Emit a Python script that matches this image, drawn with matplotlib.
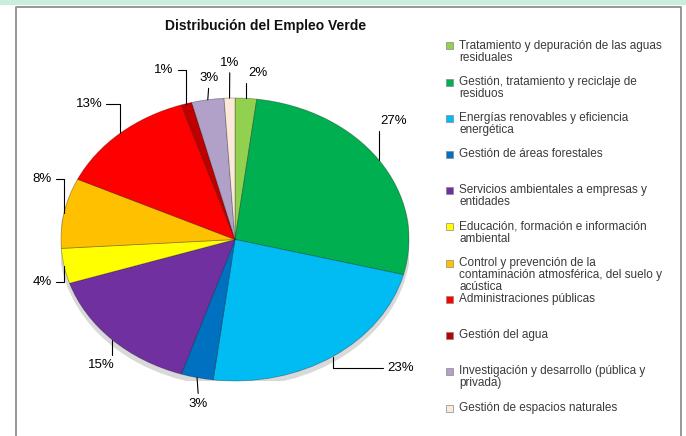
import matplotlib
matplotlib.use("Agg")
import matplotlib.pyplot as plt
from matplotlib.patches import Rectangle, Ellipse
from matplotlib.lines import Line2D
import numpy as np

# data
categorias = [
    "Tratamiento y depuración de las aguas\nresiduales",
    "Gestión, tratamiento y reciclaje de\nresiduos",
    "Energías renovables y eficiencia\nenergética",
    "Gestión de áreas forestales",
    "Servicios ambientales a empresas y\nentidades",
    "Educación, formación e información\nambiental",
    "Control y prevención de la\ncontaminación atmosférica, del suelo y\nacústica",
    "Administraciones públicas",
    "Gestión del agua",
    "Investigación y desarrollo (pública y\nprivada)",
    "Gestión de espacios naturales",
]
porcentajes = [2, 27, 23, 3, 15, 4, 8, 13, 1, 3, 1]

colores = ["#92d050", "#00b050", "#00bcf2", "#0070c0", "#7030a0", "#ffff00",
           "#ffc000", "#ff0000", "#c00000", "#b1a0c7", "#fde9d9"]

# where each % label sits (axes data coords, pie radius = 1)
pos_etiquetas = [(0.13, 1.18), (0.91, 0.84), (0.95, -0.91), (-0.21, -1.16),
                 (-0.77, -0.89), (-1.11, -0.30), (-1.11, 0.43), (-0.84, 0.96),
                 (-0.41, 1.20), (-0.15, 1.14), (-0.03, 1.25)]

fuente = "Liberation Sans"

W, H = 686, 436
fig = plt.figure(figsize=(W / 100, H / 100), dpi=100)
fig.patch.set_facecolor("white")

# top band and frame
fig.add_artist(Rectangle((0, 1 - 5 / H), 1, 5 / H, transform=fig.transFigure,
                         color="#c9efdc", lw=0))
xl, xr, yt = 16 / W, 681 / W, 1 - 7.5 / H
fig.add_artist(Line2D([xl, xl, xr, xr], [0, yt, yt, 0], transform=fig.transFigure,
                      color="#8f8f8f", lw=1.3))

fig.text(266 / W, 1 - 26 / H, "Distribución del Empleo Verde", ha="center",
         va="center", fontsize=10, fontweight="bold", family=fuente,
         color="#111111")

ax = fig.add_axes([61 / W, 1 - 381 / H, 348 / W, 283 / H])
ax.add_patch(Ellipse((0.0, -0.03), 2.02, 2.02, color="#000000", alpha=0.15,
                     lw=0, zorder=0))
wedges, _ = ax.pie(porcentajes, colors=colores, startangle=90, counterclock=False,
                   radius=1,
                   wedgeprops=dict(edgecolor=(0, 0, 0, 0.3), linewidth=0.6))
ax.set_aspect("auto")
ax.set_xlim(-1, 1)
ax.set_ylim(-1, 1)
ax.axis("off")

for w, p, (tx, ty) in zip(wedges, porcentajes, pos_etiquetas):
    ang = np.deg2rad((w.theta1 + w.theta2) / 2)
    px, py = np.cos(ang), np.sin(ang)
    if abs(tx - px) < 0.06:
        relpos = (0.5, 0) if ty > 0 else (0.5, 1)
        conn = "arc3"
    elif tx < px:
        relpos = (1, 0.5)
        conn = "angle,angleA=0,angleB=90,rad=0"
    else:
        relpos = (0, 0.5)
        conn = "angle,angleA=0,angleB=90,rad=0"
    ax.annotate(f"{p}%", xy=(px, py), xytext=(tx, ty), ha="center", va="center",
                fontsize=9.5, family=fuente, color="black",
                annotation_clip=False,
                arrowprops=dict(arrowstyle="-", color="black", lw=0.8,
                                shrinkA=1, shrinkB=0, relpos=relpos,
                                connectionstyle=conn))

# legend
for i, (c, lab) in enumerate(zip(colores, categorias)):
    yc = 46 + i * 36.2
    fig.add_artist(Rectangle((446 / W, 1 - (yc + 3.5) / H), 7 / W, 7 / H,
                             transform=fig.transFigure, facecolor=c,
                             edgecolor="#888888", lw=0.5))
    fig.text(459 / W, 1 - (yc - 6.5) / H, lab, ha="left", va="top", fontsize=8.5,
             family=fuente, color="#3a3a3a", linespacing=1.02)

fig.savefig("out.png", dpi=100)
